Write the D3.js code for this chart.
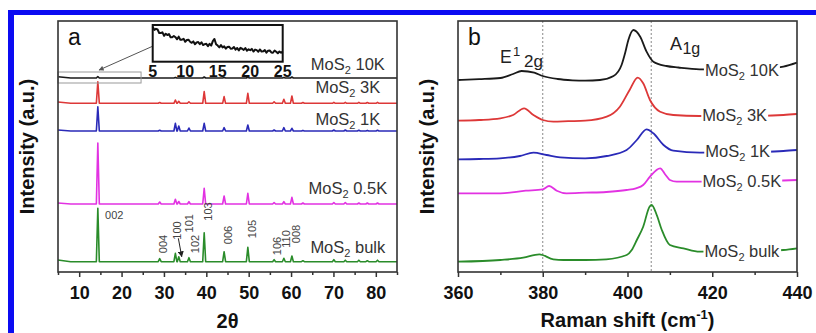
<!DOCTYPE html>
<html><head><meta charset="utf-8">
<script src="https://cdn.jsdelivr.net/npm/d3@7"></script>
<style>
html,body{margin:0;padding:0;background:#fff;}
svg{display:block;font-family:"Liberation Sans",Arial,sans-serif;}
</style></head><body>
<svg id="c" width="816" height="333"></svg>
<script>
// ---------- DATA ----------
const seriesNames = ["10K","3K","1K","0.5K","bulk"];
const seriesColors = ["#1a1a1a","#dd3838","#2a2ab8","#e232e2","#2a8c2a"];

// Panel a: XRD
const xrdPeakPos = [14.4, 29.0, 32.7, 33.5, 35.9, 39.5, 44.2, 49.8, 56.0, 58.3, 60.2, 62.8, 70.1, 72.8, 76.0, 78.0, 80.4];
const xrdBase  = [194, 168.7, 141, 68, 10.3];
const xrdStart = [195.3, 170, 142, 69, 12];
const xrdH10K  = [1.5,0,0.6,0,0,1,0.6,1,0,0.5,1,0,0,0,0,0,0];
const xrdH3K   = [21.6,0.8,3.3,2,1.5,11.7,6.7,10,1.5,4,7.3,0.8,1,1,1,0.8,1];
const xrdH1K   = [24.3,0.8,7.7,5,3,7.7,3.3,6,1,3.3,2.7,0.6,1,1,0.8,0.6,0.8];
const xrdH05K  = [61,2,4.7,2.5,2.3,15.7,8,10.7,1.5,2.3,6.7,1,1.5,1.5,1,1,1];
const xrdHBulk = [53.4,3,8.4,5,4,29,10,14.4,2,3.4,5.7,1,2,1.5,1.5,1,1.5];
const xrdLabelPos = [[73.4,202],[73.4,179],[73.4,147],[73.4,78],[73.4,19.3]];
const xrdTicks = [10,20,30,40,50,60,70,80];
const xrdMinor = [5,15,25,35,45,55,65,75,85];

const hklLabels = ["004","100","101","102","103","006","105","106","110","008"];
const hklX = [29.85,33.0,35.9,37.3,40.5,45.2,50.7,56.6,58.8,61.2];
const hklY = [28,41.5,48.7,28,60.5,37,43,26,33,38];
const hkl002 = [16.1,53];

// inset (low angle region of 10K)
const insetX = [5,5.25,5.5,5.75,6,6.25,6.5,6.75,7,7.25,7.5,7.75,8,8.25,8.5,8.75,9,9.25,9.5,9.75,10,10.25,10.5,10.75,11,11.25,11.5,11.75,12,12.25,12.5,12.75,13,13.25,13.5,13.75,14,14.25,14.5,14.75,15,15.25,15.5,15.75,16,16.25,16.5,16.75,17,17.25,17.5,17.75,18,18.25,18.5,18.75,19,19.25,19.5,19.75,20,20.25,20.5,20.75,21,21.25,21.5,21.75,22,22.25,22.5,22.75,23,23.25,23.5,23.75,24,24.25,24.5,24.75,25];
const insetY = [98,89,92,90,80,80,82,72,78,74,77,68,68,71.5,68,62,69.5,61,61,63.5,55,60,61,55,52,56,48,53,54,48,53.5,45.5,48,49,42.5,49,44,57,63,48,44,39,45.5,39,42,35.5,40,41,35,35.5,40,32.5,37,30.5,37.5,35,31.5,37,29.5,33.5,31,34.5,27,32.5,31,26.5,33,27,27.5,31,24,29.5,30,24.5,23.5,30,26.5,22,27,23.5,27];
const insetTicks = [5,10,15,20,25];

// Panel b: Raman
const raman10K = [[360,192],[365,192.8],[370,194],[373,198],[375,201],[378,199.3],[380,196],[383.5,193],[387,191.7],[390,191.3],[393.5,192],[396.7,196],[398.6,207],[399.5,220],[400.2,232],[401.4,242],[403,235.3],[404.5,220.3],[406.1,210.3],[409.2,206],[412,204.5],[417,202.7],[425,202.5],[432,203],[436.8,205.3],[440,209.3]];
const raman3K = [[360,151.3],[365,152],[370,153.7],[373,157],[375.6,163.7],[377.8,157],[380,152],[382.5,150.3],[386,150.8],[390,151.3],[395.1,155.3],[398.2,165.3],[400.5,182],[402.4,194.3],[403.7,188.7],[405.3,172],[407.7,160.3],[410.8,157],[417,156],[430,156],[436.8,157],[440,158]];
const raman1K = [[360,112.7],[365,113],[369.9,113.7],[374.6,116],[377.8,119.3],[380.9,117],[384.1,114.7],[390,113.7],[395.1,116],[399.8,122],[402.2,132],[404.5,142.7],[406.1,138.7],[408.5,127],[410.8,121.3],[417.1,119.3],[430,120],[436.8,121],[440,122]];
const raman05K = [[360,78.7],[370,78.7],[376,81.3],[380,82.7],[381.5,86],[383.3,81.3],[385.6,78.7],[390,79.3],[395,80],[399.8,82],[402,83.7],[403.7,87],[405.3,95.3],[407.7,103.7],[409,97],[410,92],[411.6,90.3],[417,90.3],[430,91],[436.8,91.5],[440,92]];
const ramanBulk = [[360,10.3],[370,12],[375.4,14.3],[379.2,17.7],[382.5,12.7],[384.9,12],[390,12],[395,12.7],[399.8,17],[401,22],[402.2,32],[403.7,45.3],[405.2,65.3],[405.7,67],[406.9,57],[408.1,42],[410,27],[413.2,23.7],[417,20.3],[430,21],[436.8,22],[440,23.7]];
const ramanLabelPos = [[427,196],[425.3,151],[426,115],[427,85],[427,15]];
const ramanTicks = [360,380,400,420,440];
const ramanMinor = [370,390,410,430];
const ramanRefLines = [380,405.6];

// ---------- DRAW ----------
const svg = d3.select("#c");
const BLUE = "#0b0bf2";
svg.append("rect").attr("x",8).attr("y",10).attr("width",808).attr("height",5).attr("fill",BLUE);
svg.append("rect").attr("x",8).attr("y",10).attr("width",6).attr("height",323).attr("fill",BLUE);

const pTop = 21, pBottom = 272;
const xA = d3.scaleLinear().domain([5,85]).range([58,397]);
const yA = d3.scaleLinear().domain([0,251]).range([pBottom,pTop]);
const xB = d3.scaleLinear().domain([360,440]).range([458,797]);
const yB = d3.scaleLinear().domain([0,251]).range([pBottom,pTop]);

function mosLabel(g, x, y, suffix, anchor){
  const t = g.append("text").attr("x",x).attr("y",y).attr("text-anchor",anchor||"middle")
    .attr("font-size",16.5).attr("fill","#333");
  t.append("tspan").text("MoS");
  t.append("tspan").attr("font-size",11).attr("dy",4).text("2");
  t.append("tspan").attr("dy",-4).text(" " + suffix);
  return t;
}

function drawAxis(g, x, ticks, minor){
  g.append("g").attr("transform",`translate(0,${pBottom})`)
    .call(d3.axisBottom(x).tickValues(minor).tickSize(3).tickSizeOuter(0).tickFormat(""))
    .call(a=>a.select(".domain").remove())
    .call(a=>a.selectAll("line").attr("stroke","#333").attr("stroke-width",1.5));
  const ax = g.append("g").attr("transform",`translate(0,${pBottom})`)
    .call(d3.axisBottom(x).tickValues(ticks).tickSize(5).tickSizeOuter(0));
  ax.select(".domain").remove();
  ax.selectAll("line").attr("stroke","#333").attr("stroke-width",1.5);
  ax.selectAll("text").attr("font-size",18).attr("font-weight","bold").attr("fill","#111")
    .attr("font-family",'"Liberation Sans",Arial,sans-serif').attr("dy",null).attr("y",27);
}

// ---- Panel a ----
const gA = svg.append("g");
const lineA = d3.line().x(d=>xA(d[0])).y(d=>yA(d[1]));
const xrdH = [xrdH10K,xrdH3K,xrdH1K,xrdH05K,xrdHBulk];
function xrdPoints(i){
  const pts = [[5,xrdStart[i]],[8,xrdBase[i]]];
  xrdPeakPos.forEach((p,j)=>{
    const h = xrdH[i][j];
    if(h>0) pts.push([p-0.35,xrdBase[i]],[p,xrdBase[i]+h],[p+0.35,xrdBase[i]]);
  });
  pts.push([85,xrdBase[i]]);
  return pts;
}
for(let i=0;i<5;i++){
  gA.append("path").attr("d",lineA(xrdPoints(i))).attr("fill","none")
    .attr("stroke",seriesColors[i]).attr("stroke-width",1.6).attr("stroke-linejoin","round");
}
seriesNames.forEach((s,i)=> mosLabel(gA, xA(xrdLabelPos[i][0]), yA(xrdLabelPos[i][1]), s));

// hkl labels
gA.append("text").attr("x",xA(hkl002[0])).attr("y",yA(hkl002[1])).attr("font-size",11).attr("fill","#444").text("002");
hklLabels.forEach((l,i)=>{
  gA.append("text").attr("transform",`translate(${xA(hklX[i])},${yA(hklY[i])}) rotate(-90)`)
    .attr("text-anchor","middle").attr("dominant-baseline","central")
    .attr("font-size",11).attr("fill","#444").text(l);
});
// small arrow to the 100 peak
const defs = svg.append("defs");
defs.append("marker").attr("id","ah").attr("viewBox","0 0 10 10").attr("refX",9).attr("refY",5)
  .attr("markerWidth",6).attr("markerHeight",6).attr("orient","auto-start-reverse")
  .append("path").attr("d","M0,0 L10,5 L0,10 z").attr("fill","#222");
defs.append("marker").attr("id","ah2").attr("viewBox","0 0 10 10").attr("refX",9).attr("refY",5)
  .attr("markerWidth",6).attr("markerHeight",5).attr("orient","auto")
  .append("path").attr("d","M0,0 L10,5 L0,10 z").attr("fill","#555");
gA.append("line").attr("x1",xA(33.4)).attr("y1",yA(33.7)).attr("x2",xA(34.2)).attr("y2",yA(15.3))
  .attr("stroke","#222").attr("stroke-width",1).attr("marker-end","url(#ah)");

// zoom rectangle + arrow + inset
gA.append("rect").attr("x",xA(5)).attr("y",yA(200)).attr("width",xA(24.6)-xA(5)).attr("height",yA(189)-yA(200))
  .attr("fill","none").attr("stroke","#999").attr("stroke-width",1);
const xI = d3.scaleLinear().domain([5,25]).range([152.7,282.7]);
const yI = d3.scaleLinear().domain([0,100]).range([61,26]);
gA.append("line").attr("x1",152).attr("y1",46.5).attr("x2",xA(14.7)).attr("y2",yA(202))
  .attr("stroke","#555").attr("stroke-width",1).attr("marker-end","url(#ah2)");
gA.append("rect").attr("x",152.7).attr("y",25).attr("width",130).attr("height",36.7)
  .attr("fill","#fff").attr("stroke","#111").attr("stroke-width",2);
gA.append("path").attr("d",d3.line().x((d,i)=>xI(insetX[i])).y(d=>yI(d))(insetY))
  .attr("fill","none").attr("stroke","#111").attr("stroke-width",2).attr("stroke-linejoin","round");
insetTicks.forEach(t=>{
  gA.append("text").attr("x",xI(t)).attr("y",77).attr("text-anchor","middle")
    .attr("font-size",16).attr("font-weight","bold").attr("fill","#111").text(t);
});

gA.append("rect").attr("x",58).attr("y",pTop).attr("width",339).attr("height",pBottom-pTop)
  .attr("fill","none").attr("stroke","#333").attr("stroke-width",1.6);
drawAxis(gA, xA, xrdTicks, xrdMinor);
gA.append("text").attr("x",68).attr("y",45).attr("font-size",23).attr("fill","#111").text("a");
gA.append("text").attr("x",227.5).attr("y",328).attr("text-anchor","middle").attr("font-size",20)
  .attr("font-weight","bold").attr("fill","#111").text("2θ");
gA.append("text").attr("transform","translate(34,146.5) rotate(-90)").attr("text-anchor","middle")
  .attr("font-size",20).attr("font-weight","bold").attr("fill","#111").text("Intensity (a.u.)");

// ---- Panel b ----
const gB = svg.append("g");
ramanRefLines.forEach(v=>{
  gB.append("line").attr("x1",xB(v)).attr("x2",xB(v)).attr("y1",pTop).attr("y2",pBottom)
    .attr("stroke","#888").attr("stroke-width",1).attr("stroke-dasharray","2,2");
});
const lineB = d3.line().x(d=>xB(d[0])).y(d=>yB(d[1])).curve(d3.curveMonotoneX);
const ramanData = [raman10K,raman3K,raman1K,raman05K,ramanBulk];
ramanData.forEach((d,i)=>{
  gB.append("path").attr("d",lineB(d)).attr("fill","none").attr("stroke",seriesColors[i]).attr("stroke-width",1.8);
});
seriesNames.forEach((s,i)=>{
  const t = mosLabel(gB, xB(ramanLabelPos[i][0]), yB(ramanLabelPos[i][1]), s);
  const bb = t.node().getBBox();
  gB.insert("rect", function(){ return t.node(); })
    .attr("x",bb.x-1).attr("y",bb.y).attr("width",bb.width+2).attr("height",bb.height).attr("fill","#fff");
});
// mode labels
const e = gB.append("text").attr("fill","#222");
e.append("tspan").attr("x",xB(369.9)).attr("y",yB(209)).attr("font-size",17.5).text("E");
e.append("tspan").attr("x",xB(369.9)+13).attr("y",yB(216)).attr("font-size",13).text("1");
e.append("tspan").attr("x",xB(369.9)+24).attr("y",yB(205.5)).attr("font-size",17).text("2g");
const a1 = gB.append("text").attr("fill","#222");
a1.append("tspan").attr("x",xB(410)).attr("y",yB(222)).attr("font-size",18).text("A");
a1.append("tspan").attr("x",xB(410)+12.5).attr("y",yB(218)).attr("font-size",16).text("1g");

gB.append("rect").attr("x",458).attr("y",pTop).attr("width",339).attr("height",pBottom-pTop)
  .attr("fill","none").attr("stroke","#333").attr("stroke-width",1.6);
drawAxis(gB, xB, ramanTicks, ramanMinor);
gB.append("text").attr("x",468).attr("y",45).attr("font-size",23).attr("fill","#111").text("b");
const rt = gB.append("text").attr("x",627.5).attr("y",327).attr("text-anchor","middle").attr("font-size",20)
  .attr("font-weight","bold").attr("fill","#111");
rt.append("tspan").text("Raman shift (cm");
rt.append("tspan").attr("font-size",13).attr("dy",-8).text("-1");
rt.append("tspan").attr("dy",8).text(")");
gB.append("text").attr("transform","translate(434,146.5) rotate(-90)").attr("text-anchor","middle")
  .attr("font-size",20).attr("font-weight","bold").attr("fill","#111").text("Intensity (a.u.)");
</script>
</body></html>
